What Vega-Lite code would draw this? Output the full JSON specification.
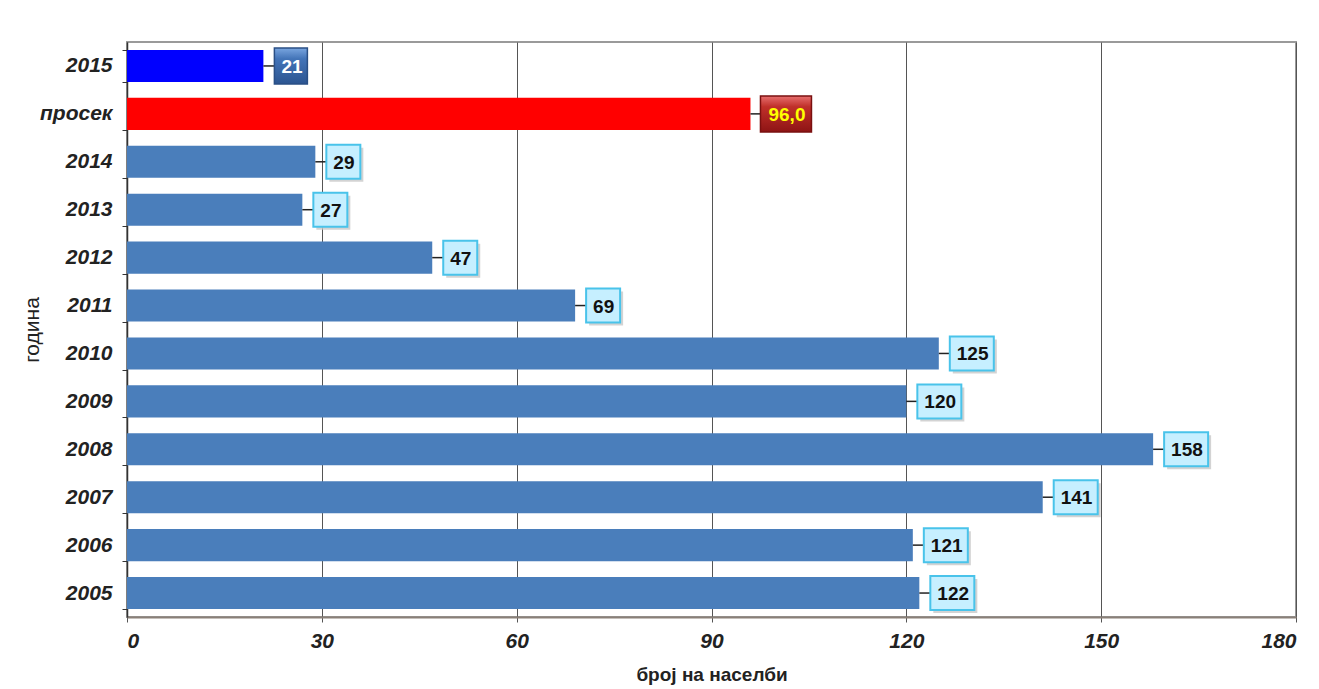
{
  "$schema": "https://vega.github.io/schema/vega-lite/v6.json",
  "width": 1169,
  "height": 575,
  "autosize": {"type": "none"},
  "padding": {"left": 127, "top": 42, "right": 23, "bottom": 72},
  "background": "white",
  "config": {
    "view": {"stroke": "#9a9a9a", "strokeWidth": 2},
    "font": "Liberation Sans"
  },
  "data": {
    "values": [
      {"year": "2015", "value": 21, "label": "21", "type": "current"},
      {"year": "просек", "value": 96, "label": "96,0", "type": "avg"},
      {"year": "2014", "value": 29, "label": "29", "type": "past"},
      {"year": "2013", "value": 27, "label": "27", "type": "past"},
      {"year": "2012", "value": 47, "label": "47", "type": "past"},
      {"year": "2011", "value": 69, "label": "69", "type": "past"},
      {"year": "2010", "value": 125, "label": "125", "type": "past"},
      {"year": "2009", "value": 120, "label": "120", "type": "past"},
      {"year": "2008", "value": 158, "label": "158", "type": "past"},
      {"year": "2007", "value": 141, "label": "141", "type": "past"},
      {"year": "2006", "value": 121, "label": "121", "type": "past"},
      {"year": "2005", "value": 122, "label": "122", "type": "past"}
    ]
  },
  "encoding": {
    "y": {
      "field": "year",
      "type": "nominal",
      "sort": null,
      "scale": {"paddingInner": 0.33, "paddingOuter": 0.165},
      "axis": {
        "title": "година",
        "titleFontSize": 21,
        "titleFontWeight": "normal",
        "titleColor": "#222",
        "titlePadding": -3,
        "labelFontSize": 21,
        "labelFontWeight": "bold",
        "labelFontStyle": "italic",
        "labelColor": "#222",
        "labelPadding": 10,
        "domainColor": "#333",
        "domainWidth": 1.5,
        "ticks": true,
        "tickBand": "extent",
        "tickSize": 5,
        "tickColor": "#333",
        "grid": false
      }
    },
    "x": {
      "field": "value",
      "type": "quantitative",
      "scale": {"domain": [0, 180], "nice": false},
      "axis": {
        "title": "број на населби",
        "titleFontSize": 19,
        "titleFontWeight": "bold",
        "titleColor": "#222",
        "titlePadding": 14,
        "values": [0, 30, 60, 90, 120, 150, 180],
        "labelFontSize": 21,
        "labelFontWeight": "bold",
        "labelFontStyle": "italic",
        "labelColor": "#222",
        "labelPadding": 8,
        "grid": true,
        "gridColor": "#555",
        "gridWidth": 1,
        "domainColor": "#8a8078",
        "domainWidth": 2,
        "tickColor": "#555",
        "tickSize": 5
      }
    }
  },
  "layer": [
    {
      "mark": {"type": "bar"},
      "encoding": {
        "color": {
          "field": "type",
          "type": "nominal",
          "scale": {"domain": ["current", "avg", "past"], "range": ["#0000ff", "#ff0000", "#4a7ebb"]},
          "legend": null
        }
      }
    },
    {
      "mark": {"type": "point", "shape": "M0,0H11", "size": 4, "filled": false, "stroke": "#222", "strokeWidth": 1.5, "opacity": 1}
    },
    {
      "transform": [{"filter": "datum.type == 'past' && datum.value < 100"}],
      "mark": {"type": "point", "shape": "M14,-14H48V20H14Z", "size": 4, "filled": true, "fill": "#c8c8c8", "opacity": 0.8, "strokeWidth": 0}
    },
    {
      "transform": [{"filter": "datum.type == 'past' && datum.value >= 100"}],
      "mark": {"type": "point", "shape": "M14,-14H58V20H14Z", "size": 4, "filled": true, "fill": "#c8c8c8", "opacity": 0.8, "strokeWidth": 0}
    },
    {
      "transform": [{"filter": "datum.type == 'past' && datum.value < 100"}],
      "mark": {"type": "point", "shape": "M11,-17H45V17H11Z", "size": 4, "filled": true, "fill": "#c6efff", "stroke": "#49c3ea", "strokeWidth": 2, "opacity": 1}
    },
    {
      "transform": [{"filter": "datum.type == 'past' && datum.value >= 100"}],
      "mark": {"type": "point", "shape": "M11,-17H55V17H11Z", "size": 4, "filled": true, "fill": "#c6efff", "stroke": "#49c3ea", "strokeWidth": 2, "opacity": 1}
    },
    {
      "transform": [{"filter": "datum.type == 'current'"}],
      "mark": {
        "type": "point", "shape": "M11,-18H44V18H11Z", "size": 4, "filled": true, "opacity": 1,
        "fill": {"gradient": "linear", "x1": 0, "y1": 0, "x2": 0, "y2": 1, "stops": [{"offset": 0, "color": "#7aa6e0"}, {"offset": 0.3, "color": "#4374b8"}, {"offset": 1, "color": "#2c5591"}]},
        "stroke": "#2a4f85", "strokeWidth": 1.5
      }
    },
    {
      "transform": [{"filter": "datum.type == 'avg'"}],
      "mark": {
        "type": "point", "shape": "M10,-18H61V18H10Z", "size": 4, "filled": true, "opacity": 1,
        "fill": {"gradient": "linear", "x1": 0, "y1": 0, "x2": 0, "y2": 1, "stops": [{"offset": 0, "color": "#e87070"}, {"offset": 0.3, "color": "#c0302a"}, {"offset": 1, "color": "#8e1414"}]},
        "stroke": "#7a1010", "strokeWidth": 1.5
      }
    },
    {
      "mark": {"type": "text", "align": "left", "baseline": "middle", "dx": 18, "dy": 1, "fontSize": 19, "fontWeight": "bold", "font": "Liberation Sans"},
      "encoding": {
        "text": {"field": "label"},
        "color": {
          "condition": [
            {"test": "datum.type == 'current'", "value": "#ffffff"},
            {"test": "datum.type == 'avg'", "value": "#ffff00"}
          ],
          "value": "#111111"
        }
      }
    }
  ]
}
